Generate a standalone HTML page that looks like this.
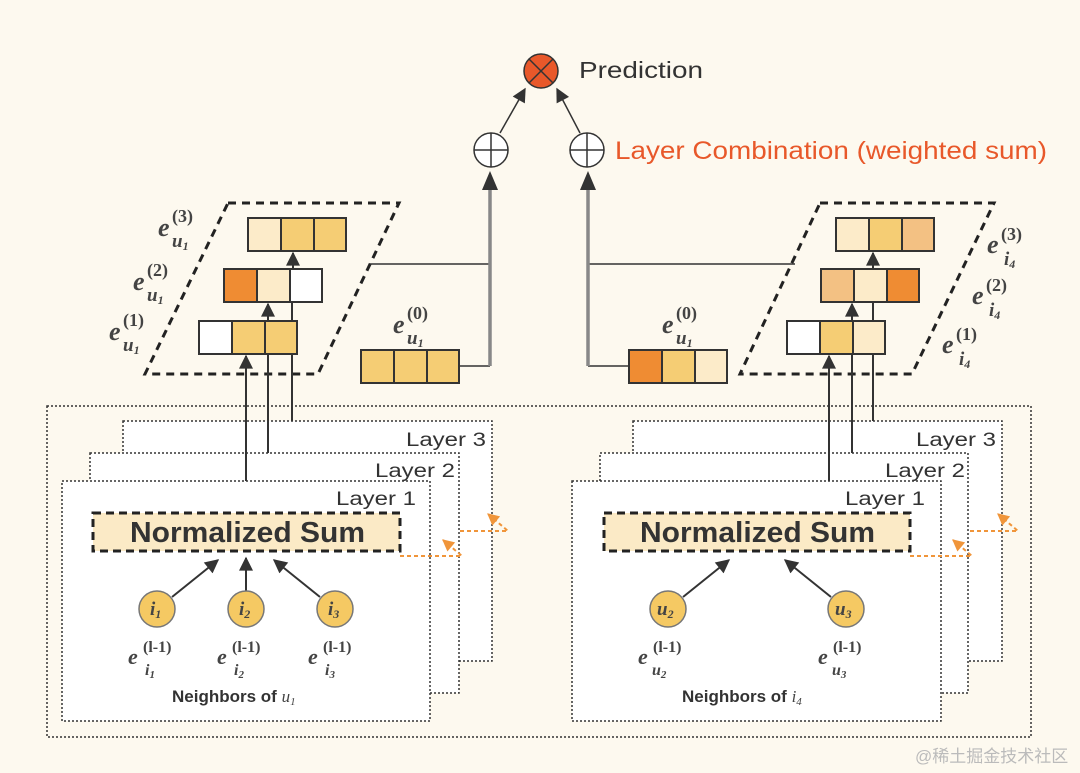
<!DOCTYPE html>
<html><head><meta charset="utf-8"><style>
html,body{margin:0;padding:0;background:#fdf9ef;}
svg{display:block}
.m{font-family:"Liberation Serif",serif;font-style:italic;fill:#444}
.s{font-family:"Liberation Sans",sans-serif}
</style></head><body>
<svg width="1080" height="773" viewBox="0 0 1080 773" xmlns="http://www.w3.org/2000/svg">
<defs>
<marker id="a" viewBox="0 0 10 10" refX="9" refY="5" markerUnits="userSpaceOnUse" markerWidth="16" markerHeight="14" orient="auto"><path d="M0,0L10,5L0,10z" fill="#333"/></marker>
<marker id="o" viewBox="0 0 10 10" refX="9" refY="5" markerUnits="userSpaceOnUse" markerWidth="14" markerHeight="12" orient="auto"><path d="M0,0L10,5L0,10z" fill="#f0953a"/></marker>
</defs>
<rect width="1080" height="773" fill="#fdf9ef"/>
<rect x="47" y="406" width="984" height="331" fill="none" stroke="#333" stroke-width="1.5" stroke-dasharray="2,2"/>
<g fill="#fff" stroke="#333" stroke-width="1.5" stroke-dasharray="2,2">
<rect x="123" y="421" width="369" height="240"/>
<rect x="90" y="453" width="369" height="240"/>
<rect x="62" y="481" width="368" height="240"/>
<rect x="633" y="421" width="369" height="240"/>
<rect x="600" y="453" width="368" height="240"/>
<rect x="572" y="481" width="369" height="240"/>
</g>
<g class="s" font-size="19" fill="#333">
<text x="406" y="446" textLength="80" lengthAdjust="spacingAndGlyphs">Layer 3</text><text x="375" y="477" textLength="80" lengthAdjust="spacingAndGlyphs">Layer 2</text><text x="336" y="505" textLength="80" lengthAdjust="spacingAndGlyphs">Layer 1</text>
<text x="916" y="446" textLength="80" lengthAdjust="spacingAndGlyphs">Layer 3</text><text x="885" y="477" textLength="80" lengthAdjust="spacingAndGlyphs">Layer 2</text><text x="845" y="505" textLength="80" lengthAdjust="spacingAndGlyphs">Layer 1</text>
</g>
<rect x="93" y="513" width="307" height="38" fill="#fbeac6" stroke="#222" stroke-width="3" stroke-dasharray="8,5"/>
<rect x="604" y="513" width="306" height="38" fill="#fbeac6" stroke="#222" stroke-width="3" stroke-dasharray="8,5"/>
<text x="130" y="542" class="s" font-size="29" font-weight="bold" fill="#333" textLength="235" lengthAdjust="spacingAndGlyphs">Normalized Sum</text>
<text x="640" y="542" class="s" font-size="29" font-weight="bold" fill="#333" textLength="235" lengthAdjust="spacingAndGlyphs">Normalized Sum</text>
<g fill="none" stroke="#f0953a" stroke-width="2" stroke-dasharray="4,3">
<path d="M400,556H462L443,540" marker-end="url(#o)"/>
<path d="M460,531H508L488,514" marker-end="url(#o)"/>
<path d="M910,556H972L953,540" marker-end="url(#o)"/>
<path d="M970,531H1018L998,514" marker-end="url(#o)"/>
</g>
<g stroke="#333" stroke-width="2" fill="none">
<line x1="172" y1="597" x2="218" y2="560" marker-end="url(#a)"/>
<line x1="246" y1="591" x2="246" y2="558" marker-end="url(#a)"/>
<line x1="320" y1="597" x2="274" y2="560" marker-end="url(#a)"/>
<line x1="683" y1="597" x2="729" y2="560" marker-end="url(#a)"/>
<line x1="831" y1="597" x2="785" y2="560" marker-end="url(#a)"/>
</g>
<g fill="#f5c963" stroke="#777" stroke-width="1.5">
<circle cx="157" cy="609" r="18"/><circle cx="246" cy="609" r="18"/><circle cx="335" cy="609" r="18"/>
<circle cx="668" cy="609" r="18"/><circle cx="846" cy="609" r="18"/>
</g>
<g class="m" font-size="19" font-weight="bold" fill="#444">
<text x="150" y="615">i<tspan font-size="12" dy="3">1</tspan></text>
<text x="239" y="615">i<tspan font-size="12" dy="3">2</tspan></text>
<text x="328" y="615">i<tspan font-size="12" dy="3">3</tspan></text>
<text x="657" y="615">u<tspan font-size="12" dy="3">2</tspan></text>
<text x="835" y="615">u<tspan font-size="12" dy="3">3</tspan></text>
</g>
<g class="m" font-size="22" font-weight="bold">
<text x="128" y="664">e</text><text x="143" y="652" font-size="16" font-style="normal">(l-1)</text><text x="145" y="675" font-size="16">i<tspan font-size="11" dy="3">1</tspan></text>
<text x="217" y="664">e</text><text x="232" y="652" font-size="16" font-style="normal">(l-1)</text><text x="234" y="675" font-size="16">i<tspan font-size="11" dy="3">2</tspan></text>
<text x="308" y="664">e</text><text x="323" y="652" font-size="16" font-style="normal">(l-1)</text><text x="325" y="675" font-size="16">i<tspan font-size="11" dy="3">3</tspan></text>
<text x="638" y="664">e</text><text x="653" y="652" font-size="16" font-style="normal">(l-1)</text><text x="652" y="675" font-size="16">u<tspan font-size="11" dy="3">2</tspan></text>
<text x="818" y="664">e</text><text x="833" y="652" font-size="16" font-style="normal">(l-1)</text><text x="832" y="675" font-size="16">u<tspan font-size="11" dy="3">3</tspan></text>
</g>
<text x="172" y="702" class="s" font-size="17" font-weight="bold" fill="#333">Neighbors of <tspan class="m" font-weight="normal">u<tspan font-size="11" dy="3">1</tspan></tspan></text>
<text x="682" y="702" class="s" font-size="17" font-weight="bold" fill="#333">Neighbors of <tspan class="m" font-weight="normal">i<tspan font-size="11" dy="3">4</tspan></tspan></text>
<g fill="none" stroke="#222" stroke-width="3" stroke-dasharray="8,6">
<path d="M228,203H399L318,374H145Z"/>
<path d="M820,203H994L912,374H740Z"/>
</g>
<g stroke="#333" stroke-width="2" fill="none">
<line x1="246" y1="481" x2="246" y2="356" marker-end="url(#a)"/>
<line x1="268" y1="453" x2="268" y2="304" marker-end="url(#a)"/>
<line x1="292" y1="421" x2="292" y2="302"/>
<line x1="293" y1="269" x2="293" y2="253" marker-end="url(#a)"/>
<line x1="829" y1="481" x2="829" y2="356" marker-end="url(#a)"/>
<line x1="852" y1="453" x2="852" y2="304" marker-end="url(#a)"/>
<line x1="873" y1="421" x2="873" y2="302"/>
<line x1="873" y1="269" x2="873" y2="253" marker-end="url(#a)"/>
<line x1="370" y1="264" x2="490" y2="264" stroke-width="1.5"/>
<line x1="588" y1="264" x2="795" y2="264" stroke-width="1.5"/>
<line x1="459" y1="366" x2="490" y2="366" stroke-width="1.5"/>
<line x1="588" y1="366" x2="629" y2="366" stroke-width="1.5"/>
</g>
<g stroke="#888" stroke-width="3.5">
<line x1="490" y1="366" x2="490" y2="184"/>
<line x1="588" y1="366" x2="588" y2="184"/>
</g>
<path d="M482,190L490,171L498,190Z" fill="#333"/>
<path d="M580,190L588,171L596,190Z" fill="#333"/>
<g stroke="#333" stroke-width="2">
<rect x="248" y="218" width="33" height="33" fill="#fcebc9"/><rect x="281" y="218" width="33" height="33" fill="#f5cd74"/><rect x="314" y="218" width="32" height="33" fill="#f5cd74"/>
<rect x="224" y="269" width="33" height="33" fill="#ef8c33"/><rect x="257" y="269" width="33" height="33" fill="#fcebc9"/><rect x="290" y="269" width="32" height="33" fill="#fff"/>
<rect x="199" y="321" width="33" height="33" fill="#fff"/><rect x="232" y="321" width="33" height="33" fill="#f5cd74"/><rect x="265" y="321" width="32" height="33" fill="#f5cd74"/>
<rect x="361" y="350" width="33" height="33" fill="#f5cd74"/><rect x="394" y="350" width="33" height="33" fill="#f5cd74"/><rect x="427" y="350" width="32" height="33" fill="#f5cd74"/>
<rect x="836" y="218" width="33" height="33" fill="#fcebc9"/><rect x="869" y="218" width="33" height="33" fill="#f5cd74"/><rect x="902" y="218" width="32" height="33" fill="#f3c183"/>
<rect x="821" y="269" width="33" height="33" fill="#f3c183"/><rect x="854" y="269" width="33" height="33" fill="#fcebc9"/><rect x="887" y="269" width="32" height="33" fill="#ef8c33"/>
<rect x="787" y="321" width="33" height="33" fill="#fff"/><rect x="820" y="321" width="33" height="33" fill="#f5cd74"/><rect x="853" y="321" width="32" height="33" fill="#fcebc9"/>
<rect x="629" y="350" width="33" height="33" fill="#ef8c33"/><rect x="662" y="350" width="33" height="33" fill="#f5cd74"/><rect x="695" y="350" width="32" height="33" fill="#fcebc9"/>
</g>
<g class="m" font-size="26" font-weight="bold">
<text x="158" y="236">e</text><text x="172" y="222" font-size="18" font-style="normal">(3)</text><text x="172" y="247" font-size="19">u<tspan font-size="12" dy="3">1</tspan></text>
<text x="133" y="290">e</text><text x="147" y="276" font-size="18" font-style="normal">(2)</text><text x="147" y="301" font-size="19">u<tspan font-size="12" dy="3">1</tspan></text>
<text x="109" y="340">e</text><text x="123" y="326" font-size="18" font-style="normal">(1)</text><text x="123" y="351" font-size="19">u<tspan font-size="12" dy="3">1</tspan></text>
<text x="393" y="333">e</text><text x="407" y="319" font-size="18" font-style="normal">(0)</text><text x="407" y="344" font-size="19">u<tspan font-size="12" dy="3">1</tspan></text>
<text x="662" y="333">e</text><text x="676" y="319" font-size="18" font-style="normal">(0)</text><text x="676" y="344" font-size="19">u<tspan font-size="12" dy="3">1</tspan></text>
<text x="987" y="253">e</text><text x="1001" y="240" font-size="18" font-style="normal">(3)</text><text x="1004" y="265" font-size="19">i<tspan font-size="12" dy="3">4</tspan></text>
<text x="972" y="304">e</text><text x="986" y="291" font-size="18" font-style="normal">(2)</text><text x="989" y="316" font-size="19">i<tspan font-size="12" dy="3">4</tspan></text>
<text x="942" y="353">e</text><text x="956" y="340" font-size="18" font-style="normal">(1)</text><text x="959" y="365" font-size="19">i<tspan font-size="12" dy="3">4</tspan></text>
</g>
<g stroke="#333" stroke-width="1.5" fill="none">
<line x1="500" y1="133" x2="525" y2="89" marker-end="url(#a)"/>
<line x1="580" y1="133" x2="557" y2="89" marker-end="url(#a)"/>
<circle cx="491" cy="150" r="17" fill="#fff"/><line x1="474" y1="150" x2="508" y2="150"/><line x1="491" y1="133" x2="491" y2="167"/>
<circle cx="587" cy="150" r="17" fill="#fff"/><line x1="570" y1="150" x2="604" y2="150"/><line x1="587" y1="133" x2="587" y2="167"/>
<circle cx="541" cy="71" r="17" fill="#e8582a"/><line x1="529" y1="59" x2="553" y2="83"/><line x1="553" y1="59" x2="529" y2="83"/>
</g>
<text x="579" y="78" class="s" font-size="23" fill="#333" textLength="124" lengthAdjust="spacingAndGlyphs">Prediction</text>
<text x="615" y="159" class="s" font-size="25" fill="#e8582a" textLength="432" lengthAdjust="spacingAndGlyphs">Layer Combination (weighted sum)</text>
<text x="915" y="762" font-family="'Liberation Sans','Noto Sans CJK SC',sans-serif" font-size="17" fill="#bbb">@稀土掘金技术社区</text>
</svg>
</body></html>
